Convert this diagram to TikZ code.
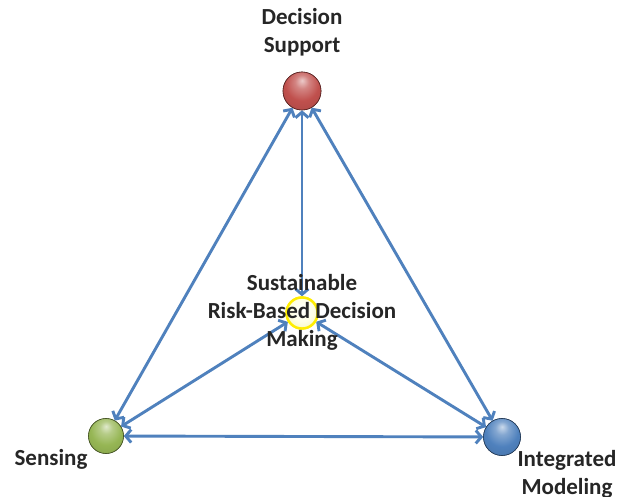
\documentclass[tikz,border=0pt]{standalone}
\usepackage{fontspec}
\setmainfont{Carlito}
\usetikzlibrary{arrows.meta}
\definecolor{linkblue}{RGB}{79,129,189}
\definecolor{redball}{RGB}{192,80,77}
\definecolor{greenball}{RGB}{150,182,84}
\definecolor{blueball}{RGB}{79,129,189}
\colorlet{spherecol}{gray}
% glossy sphere: light spot above the centre, darker rim
\pgfdeclareradialshading[spherecol]{sphere}{\pgfpoint{0bp}{14bp}}{%
  color(0bp)=(spherecol!30!white);
  color(9bp)=(spherecol!70!white);
  color(22bp)=(spherecol);
  color(40bp)=(spherecol!88!black);
  color(54bp)=(spherecol!65!black);
  color(64bp)=(spherecol!50!black)}
\pgfdeclareradialshading{pearl}{\pgfpoint{0bp}{6bp}}{%
  color(0bp)=(white);
  color(18bp)=(yellow!10!white);
  color(38bp)=(yellow!30!white!88!gray);
  color(56bp)=(yellow!50!white!78!gray);
  color(64bp)=(yellow!50!white!78!gray)}
\begin{document}
\begin{tikzpicture}[x=1pt,y=-1pt,
  sphere/.style={circle,inner sep=0pt,minimum size=#1},
  orb/.style={/utils/exec={\colorlet{spherecol}{#1}},shading=sphere,
    draw=#1!45!black,line width=0.6pt},
  link/.style={draw=linkblue,line width=2.9pt,
    {Straight Barb[length=5.5pt,width=13pt]}-{Straight Barb[length=5.5pt,width=13pt]}},
  label/.style={font=\fontsize{23}{28}\selectfont\bfseries,align=center,text=black!85}]
\useasboundingbox[fill=white] (0,0) rectangle (622,497);

% the four spheres (named so the links can join them)
\node[sphere=38pt,orb=redball] (ds) at (302,91) {};
\node[sphere=35pt,orb=greenball] (se) at (106,436) {};
\node[sphere=37pt,orb=blueball] (im) at (502,437) {};
\node[sphere=31pt,shading=pearl,draw=yellow!95!orange,line width=2.4pt] (rb) at (302,313) {};

% two-way links
\draw[link] (ds) -- (se);
\draw[link] (ds) -- (im);
\draw[link] (ds) -- (rb);
\draw[link] (se) -- (im);
\draw[link] (se) -- (rb);
\draw[link] (im) -- (rb);

% redraw spheres over the link ends
\node[sphere=38pt,orb=redball] at (ds) {};
\node[sphere=35pt,orb=greenball] at (se) {};
\node[sphere=37pt,orb=blueball] at (im) {};
\node[sphere=31pt,shading=pearl,draw=yellow!95!orange,line width=2.4pt] at (rb) {};

% labels
\node[label] (tds) at (302,32) {Decision\\Support};
\node[label] (trb) at (302,312) {Sustainable\\Risk-Based Decision\\Making};
\node[label] (tse) at (51,459) {Sensing};
\node[label] (tim) at (567,474) {Integrated\\Modeling};
\end{tikzpicture}
\end{document}
